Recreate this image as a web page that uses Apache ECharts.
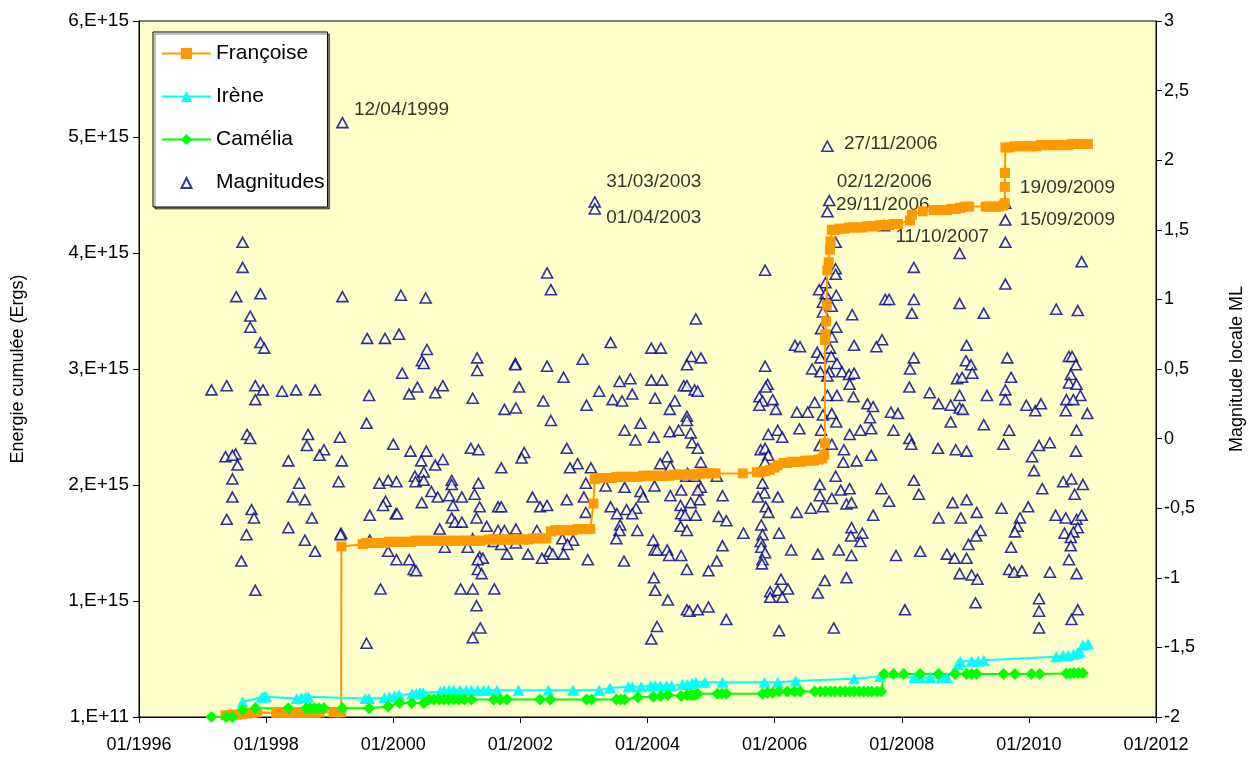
<!DOCTYPE html>
<html>
<head>
<meta charset="utf-8">
<script src="https://cdn.jsdelivr.net/npm/echarts@6/dist/echarts.min.js"></script>
<style>
  html, body { margin: 0; padding: 0; background: #fff; }
  #chart { width: 1254px; height: 763px; }
</style>
</head>
<body>
<div id="chart"></div>
<script>
// tick labels
const xTicks = [1996, 1998, 2000, 2002, 2004, 2006, 2008, 2010, 2012];

// energie cumulée (Ergs), [année décimale, énergie]
const francoise = [
  [1997.36, 0.015e15], [1997.42, 0.015e15], [1997.48, 0.02e15], [1997.55, 0.02e15], [1997.62, 0.025e15],
  [1997.70, 0.03e15], [1997.78, 0.035e15], [1997.86, 0.04e15], [1998.16, 0.035e15], [1998.22, 0.035e15],
  [1998.29, 0.035e15], [1998.36, 0.035e15], [1998.43, 0.035e15], [1998.50, 0.035e15], [1998.57, 0.035e15],
  [1998.64, 0.035e15], [1998.71, 0.035e15], [1998.78, 0.035e15], [1998.84, 0.04e15], [1999.06, 0.04e15],
  [1999.12, 0.04e15], [1999.18, 0.04e15], [1999.185, 1.47e15],
  [1999.52, 1.49e15], [1999.58, 1.50e15], [1999.65, 1.50e15], [1999.72, 1.50e15], [1999.79, 1.50e15],
  [1999.86, 1.50e15], [1999.93, 1.51e15], [2000.00, 1.51e15], [2000.07, 1.51e15], [2000.14, 1.51e15],
  [2000.21, 1.51e15], [2000.28, 1.51e15], [2000.35, 1.52e15], [2000.42, 1.52e15], [2000.49, 1.52e15],
  [2000.56, 1.52e15], [2000.63, 1.52e15], [2000.70, 1.52e15], [2000.77, 1.52e15], [2000.84, 1.52e15],
  [2000.91, 1.52e15], [2001.02, 1.52e15], [2001.09, 1.52e15], [2001.16, 1.52e15], [2001.23, 1.52e15],
  [2001.30, 1.52e15], [2001.37, 1.52e15], [2001.50, 1.53e15], [2001.57, 1.53e15], [2001.64, 1.53e15],
  [2001.71, 1.53e15], [2001.78, 1.53e15], [2001.85, 1.53e15], [2001.92, 1.53e15], [2001.99, 1.53e15],
  [2002.06, 1.53e15], [2002.13, 1.53e15], [2002.20, 1.54e15], [2002.27, 1.54e15], [2002.34, 1.54e15],
  [2002.41, 1.54e15], [2002.48, 1.60e15], [2002.55, 1.61e15], [2002.62, 1.61e15], [2002.69, 1.61e15],
  [2002.76, 1.61e15], [2002.83, 1.61e15], [2002.90, 1.62e15], [2002.97, 1.62e15], [2003.04, 1.62e15],
  [2003.10, 1.62e15], [2003.15, 1.84e15], [2003.17, 2.05e15], [2003.23, 2.06e15], [2003.30, 2.06e15],
  [2003.37, 2.06e15], [2003.44, 2.06e15], [2003.51, 2.07e15], [2003.58, 2.07e15], [2003.65, 2.07e15],
  [2003.72, 2.07e15], [2003.79, 2.07e15], [2003.86, 2.07e15], [2003.93, 2.08e15], [2004.00, 2.08e15],
  [2004.07, 2.08e15], [2004.14, 2.08e15], [2004.21, 2.08e15], [2004.28, 2.08e15], [2004.35, 2.08e15],
  [2004.42, 2.09e15], [2004.49, 2.09e15], [2004.56, 2.09e15], [2004.63, 2.09e15], [2004.70, 2.09e15],
  [2004.77, 2.09e15], [2004.84, 2.10e15], [2004.91, 2.10e15], [2005.00, 2.10e15], [2005.07, 2.10e15],
  [2005.50, 2.10e15], [2005.72, 2.11e15], [2005.78, 2.11e15], [2005.85, 2.12e15], [2005.92, 2.13e15],
  [2006.00, 2.15e15], [2006.05, 2.17e15], [2006.14, 2.19e15], [2006.20, 2.19e15], [2006.27, 2.20e15],
  [2006.34, 2.20e15], [2006.41, 2.20e15], [2006.48, 2.21e15], [2006.55, 2.21e15], [2006.62, 2.21e15],
  [2006.69, 2.22e15], [2006.75, 2.23e15], [2006.78, 2.26e15], [2006.79, 2.36e15], [2006.795, 3.25e15],
  [2006.80, 3.30e15], [2006.81, 3.41e15], [2006.82, 3.55e15], [2006.83, 3.85e15], [2006.85, 3.92e15],
  [2006.87, 4.03e15], [2006.88, 4.10e15], [2006.90, 4.20e15], [2006.96, 4.20e15], [2007.03, 4.21e15],
  [2007.10, 4.21e15], [2007.17, 4.22e15], [2007.24, 4.22e15], [2007.31, 4.22e15], [2007.38, 4.22e15],
  [2007.45, 4.23e15], [2007.52, 4.23e15], [2007.59, 4.23e15], [2007.66, 4.24e15], [2007.73, 4.24e15],
  [2007.80, 4.24e15], [2007.87, 4.25e15], [2007.94, 4.25e15], [2008.13, 4.28e15], [2008.16, 4.33e15],
  [2008.33, 4.36e15], [2008.50, 4.37e15], [2008.57, 4.37e15], [2008.64, 4.37e15], [2008.71, 4.37e15],
  [2008.78, 4.38e15], [2008.85, 4.38e15], [2008.92, 4.39e15], [2008.99, 4.40e15], [2009.06, 4.40e15],
  [2009.32, 4.40e15], [2009.39, 4.40e15], [2009.46, 4.40e15], [2009.53, 4.40e15], [2009.60, 4.41e15],
  [2009.62, 4.43e15], [2009.622, 4.57e15], [2009.625, 4.69e15], [2009.63, 4.91e15], [2009.70, 4.91e15],
  [2009.77, 4.92e15], [2009.84, 4.92e15], [2009.91, 4.92e15], [2009.98, 4.92e15], [2010.05, 4.92e15],
  [2010.12, 4.92e15], [2010.19, 4.93e15], [2010.26, 4.93e15], [2010.33, 4.93e15], [2010.40, 4.93e15],
  [2010.47, 4.93e15], [2010.54, 4.93e15], [2010.61, 4.93e15], [2010.68, 4.94e15], [2010.75, 4.94e15],
  [2010.82, 4.94e15], [2010.89, 4.94e15], [2010.93, 4.94e15]
];

const irene = [
  [1997.63, 0.13e15], [1997.93, 0.17e15], [1997.97, 0.175e15], [1998.00, 0.175e15], [1998.48, 0.16e15],
  [1998.55, 0.165e15], [1998.62, 0.17e15], [1998.66, 0.175e15], [1999.56, 0.16e15], [1999.62, 0.16e15],
  [1999.86, 0.165e15], [1999.94, 0.175e15], [2000.02, 0.18e15], [2000.09, 0.19e15], [2000.30, 0.20e15],
  [2000.36, 0.20e15], [2000.42, 0.21e15], [2000.47, 0.21e15], [2000.74, 0.22e15], [2000.80, 0.23e15],
  [2000.88, 0.23e15], [2000.95, 0.23e15], [2001.05, 0.23e15], [2001.15, 0.23e15], [2001.23, 0.23e15],
  [2001.33, 0.23e15], [2001.42, 0.23e15], [2001.50, 0.23e15], [2001.63, 0.23e15], [2001.97, 0.23e15],
  [2002.44, 0.23e15], [2002.83, 0.23e15], [2003.24, 0.23e15], [2003.41, 0.25e15], [2003.70, 0.26e15],
  [2003.76, 0.26e15], [2003.90, 0.26e15], [2004.05, 0.27e15], [2004.12, 0.27e15], [2004.20, 0.27e15],
  [2004.30, 0.27e15], [2004.38, 0.27e15], [2004.55, 0.28e15], [2004.63, 0.28e15], [2004.70, 0.29e15],
  [2004.76, 0.30e15], [2004.90, 0.30e15], [2005.18, 0.30e15], [2005.84, 0.30e15], [2006.05, 0.30e15],
  [2006.33, 0.31e15], [2007.25, 0.33e15], [2007.66, 0.35e15], [2008.20, 0.34e15], [2008.29, 0.34e15],
  [2008.45, 0.34e15], [2008.63, 0.34e15], [2008.71, 0.34e15], [2008.88, 0.45e15], [2008.92, 0.48e15],
  [2009.10, 0.48e15], [2009.20, 0.48e15], [2009.29, 0.49e15], [2010.43, 0.52e15], [2010.54, 0.53e15],
  [2010.62, 0.53e15], [2010.70, 0.54e15], [2010.76, 0.55e15], [2010.80, 0.56e15], [2010.85, 0.62e15],
  [2010.93, 0.63e15]
];

const camelia = [
  [1997.14, 0], [1997.37, 0], [1997.47, 0], [1997.63, 0.06e15], [1997.83, 0.075e15],
  [1998.35, 0.075e15], [1998.63, 0.075e15], [1998.69, 0.075e15], [1998.76, 0.075e15], [1998.83, 0.075e15],
  [1998.91, 0.075e15], [1999.20, 0.075e15], [1999.62, 0.075e15], [1999.92, 0.09e15], [2000.10, 0.12e15],
  [2000.29, 0.12e15], [2000.48, 0.12e15], [2000.56, 0.15e15], [2000.64, 0.15e15], [2000.72, 0.15e15],
  [2000.80, 0.15e15], [2000.87, 0.15e15], [2000.95, 0.15e15], [2001.03, 0.15e15], [2001.12, 0.15e15],
  [2001.23, 0.15e15], [2001.58, 0.15e15], [2001.68, 0.15e15], [2001.79, 0.15e15], [2002.31, 0.15e15],
  [2002.47, 0.15e15], [2003.04, 0.15e15], [2003.12, 0.15e15], [2003.51, 0.15e15], [2003.58, 0.15e15],
  [2003.64, 0.15e15], [2003.85, 0.17e15], [2004.09, 0.175e15], [2004.21, 0.18e15], [2004.32, 0.19e15],
  [2004.53, 0.18e15], [2004.62, 0.19e15], [2004.69, 0.19e15], [2004.74, 0.19e15], [2004.79, 0.20e15],
  [2005.10, 0.20e15], [2005.17, 0.20e15], [2005.24, 0.20e15], [2005.81, 0.20e15], [2005.89, 0.21e15],
  [2005.97, 0.21e15], [2006.07, 0.22e15], [2006.20, 0.22e15], [2006.31, 0.22e15], [2006.40, 0.22e15],
  [2006.63, 0.22e15], [2006.72, 0.22e15], [2006.80, 0.22e15], [2006.88, 0.22e15], [2006.95, 0.22e15],
  [2007.03, 0.22e15], [2007.11, 0.22e15], [2007.18, 0.22e15], [2007.25, 0.22e15], [2007.33, 0.22e15],
  [2007.40, 0.22e15], [2007.47, 0.22e15], [2007.53, 0.22e15], [2007.61, 0.22e15], [2007.68, 0.22e15],
  [2007.72, 0.37e15], [2007.87, 0.37e15], [2008.03, 0.37e15], [2008.29, 0.37e15], [2008.58, 0.37e15],
  [2008.84, 0.37e15], [2009.02, 0.37e15], [2009.10, 0.37e15], [2009.18, 0.37e15], [2009.60, 0.37e15],
  [2009.78, 0.37e15], [2010.04, 0.37e15], [2010.17, 0.37e15], [2010.59, 0.375e15], [2010.65, 0.375e15],
  [2010.71, 0.38e15], [2010.78, 0.38e15], [2010.85, 0.38e15]
];

// magnitude locale ML, [année décimale, magnitude]
const magnitudes = [
  [1999.20, 2.27], [1997.63, 1.41], [1997.63, 1.23], [1997.53, 1.02], [1997.91, 1.04], [1999.20, 1.02],
  [2000.12, 1.03], [2000.51, 1.01], [1997.75, 0.88], [1997.75, 0.80], [1997.91, 0.69], [1997.97, 0.65],
  [1999.59, 0.72], [1999.87, 0.72], [2000.09, 0.75], [2000.53, 0.64], [2000.45, 0.56], [2000.48, 0.54],
  [2000.14, 0.47], [2000.38, 0.37], [2000.25, 0.32], [1997.14, 0.35], [1997.38, 0.38], [1997.83, 0.38],
  [1997.95, 0.35], [1997.83, 0.28], [1998.25, 0.34], [1998.47, 0.35], [1998.77, 0.35], [1999.62, 0.31],
  [1999.58, 0.11], [1997.70, 0.03], [1997.75, 0.00], [1998.66, 0.03], [1998.64, -0.05], [1999.16, 0.01],
  [1998.91, -0.08], [1998.84, -0.12], [2000.00, -0.04], [2000.27, -0.09], [2000.52, -0.09], [1997.36, -0.13],
  [1997.52, -0.11], [1997.47, -0.12], [1997.55, -0.19], [1998.35, -0.16], [1999.19, -0.16], [2000.44, -0.16],
  [1997.47, -0.29], [1998.52, -0.32], [1999.14, -0.31], [1999.78, -0.32], [1999.92, -0.30], [2000.05, -0.31],
  [2000.34, -0.27], [2000.48, -0.24], [2000.35, -0.31], [2000.48, -0.30], [1997.47, -0.42], [1998.42, -0.42],
  [1998.61, -0.44], [1999.88, -0.45], [1999.84, -0.48], [2000.45, -0.46], [1997.77, -0.51], [1997.81, -0.57],
  [1997.38, -0.58], [1998.72, -0.57], [1999.63, -0.55], [2000.04, -0.54], [2000.06, -0.54], [1998.35, -0.64],
  [1999.18, -0.68], [1999.17, -0.69], [1997.69, -0.69], [1998.61, -0.73], [1999.63, -0.73], [1998.77, -0.81],
  [1999.92, -0.81], [2000.05, -0.87], [2000.25, -0.87], [2000.32, -0.94], [2000.36, -0.95], [1997.61, -0.88],
  [1997.83, -1.09], [1999.80, -1.08], [1999.58, -1.47],
  [2003.17, 1.70], [2003.17, 1.65], [2002.42, 1.19], [2002.48, 1.07], [2003.42, 0.69], [2004.06, 0.65],
  [2001.32, 0.58], [2001.32, 0.49], [2001.92, 0.54], [2001.92, 0.53], [2002.42, 0.52], [2002.98, 0.57],
  [2002.68, 0.44], [2004.06, 0.42], [2003.56, 0.41], [2003.73, 0.43], [2000.78, 0.38], [2000.66, 0.33],
  [2001.98, 0.37], [2003.24, 0.34], [2003.76, 0.32], [2004.12, 0.29], [2001.25, 0.29], [2002.36, 0.27],
  [2003.45, 0.28], [2003.60, 0.27], [2003.04, 0.24], [2001.75, 0.21], [2001.93, 0.22],
  [2002.48, 0.13], [2003.64, 0.06], [2003.89, 0.11], [2003.81, -0.01], [2004.10, 0.01], [2001.22, -0.07],
  [2001.34, -0.08], [2000.78, -0.15], [2000.66, -0.19], [2002.06, -0.10], [2002.02, -0.14], [2002.73, -0.07],
  [2002.90, -0.18], [2002.78, -0.21], [2003.11, -0.21], [2001.70, -0.21], [2000.92, -0.30], [2000.92, -0.33],
  [2001.34, -0.32], [2003.03, -0.32], [2003.34, -0.34], [2003.64, -0.35], [2003.89, -0.38], [2004.11, -0.34],
  [2000.60, -0.38], [2000.70, -0.42], [2000.88, -0.41], [2001.08, -0.42], [2001.28, -0.40], [2000.94, -0.48],
  [2001.36, -0.49], [2001.65, -0.49], [2001.70, -0.49], [2002.19, -0.42], [2002.31, -0.49], [2002.42, -0.48],
  [2002.73, -0.44], [2003.00, -0.42], [2003.03, -0.53], [2003.42, -0.49], [2003.52, -0.54], [2003.67, -0.51],
  [2003.82, -0.50], [2003.93, -0.42], [2003.76, -0.54], [2000.92, -0.57], [2000.97, -0.60], [2001.08, -0.60],
  [2001.31, -0.57], [2001.47, -0.63], [2000.73, -0.65], [2001.65, -0.66], [2001.75, -0.66], [2001.93, -0.65],
  [2002.26, -0.66], [2003.57, -0.62], [2003.56, -0.66], [2003.84, -0.66], [2003.51, -0.72], [2004.09, -0.73],
  [2000.81, -0.78], [2001.17, -0.78], [2001.25, -0.72], [2001.58, -0.74], [2001.70, -0.76], [2001.93, -0.75],
  [2002.66, -0.72], [2002.83, -0.73], [2002.74, -0.76], [2004.11, -0.80], [2001.36, -0.85], [2001.41, -0.86],
  [2001.33, -0.87], [2001.79, -0.83], [2002.12, -0.83], [2002.34, -0.86], [2002.46, -0.81], [2002.51, -0.83],
  [2002.68, -0.83], [2003.06, -0.87], [2003.63, -0.88], [2001.33, -0.94], [2001.39, -0.97], [2001.06, -1.08],
  [2001.25, -1.08], [2001.59, -1.08], [2004.10, -1.00], [2004.12, -1.09], [2001.31, -1.20], [2001.37, -1.36],
  [2001.25, -1.43], [2004.15, -1.35], [2004.06, -1.44],
  [2006.83, 2.10], [2006.86, 1.71], [2006.83, 1.63], [2005.85, 1.21], [2004.76, 0.86], [2006.96, 1.41],
  [2006.96, 1.22], [2006.96, 1.18], [2006.80, 1.12], [2006.70, 1.07], [2006.80, 1.04], [2006.97, 1.03],
  [2006.76, 0.98], [2006.90, 0.95], [2006.76, 0.91], [2007.22, 0.89], [2007.74, 1.00], [2006.97, 0.80],
  [2006.73, 0.79], [2006.90, 0.73], [2007.25, 0.67], [2007.69, 0.71], [2007.60, 0.66], [2006.32, 0.67],
  [2006.40, 0.66], [2004.21, 0.65], [2004.69, 0.59], [2004.84, 0.58], [2004.62, 0.53], [2005.85, 0.52],
  [2006.67, 0.62], [2006.72, 0.58], [2006.87, 0.65], [2006.89, 0.59], [2006.98, 0.54], [2006.59, 0.50],
  [2006.72, 0.48], [2006.86, 0.48], [2006.83, 0.45], [2007.06, 0.48], [2007.17, 0.46], [2007.25, 0.47],
  [2007.18, 0.39], [2004.23, 0.42], [2004.57, 0.38], [2004.62, 0.38], [2004.74, 0.35], [2004.79, 0.34],
  [2005.89, 0.39], [2005.86, 0.37], [2004.43, 0.27], [2004.35, 0.21], [2005.76, 0.30], [2005.81, 0.27],
  [2005.97, 0.28], [2006.02, 0.21], [2005.76, 0.24], [2006.35, 0.19], [2006.52, 0.19], [2006.63, 0.26],
  [2006.83, 0.31], [2006.98, 0.31], [2007.24, 0.30], [2007.46, 0.25], [2007.55, 0.23],
  [2004.62, 0.16], [2004.62, 0.13], [2006.76, 0.17], [2006.90, 0.18], [2006.97, 0.12], [2007.50, 0.15],
  [2007.35, 0.06], [2007.52, 0.07], [2007.18, 0.03], [2004.35, 0.05], [2004.49, 0.06], [2004.68, 0.04],
  [2004.70, -0.03], [2004.79, -0.07], [2005.90, 0.03], [2006.05, 0.06], [2006.12, 0.01], [2006.39, 0.07],
  [2006.73, 0.06], [2006.71, -0.05], [2006.90, -0.04], [2007.09, -0.08], [2005.78, -0.08], [2005.85, -0.07],
  [2005.90, -0.12], [2005.85, -0.17], [2007.08, -0.17], [2007.29, -0.16], [2007.52, -0.12], [2004.31, -0.13],
  [2004.36, -0.20], [2004.20, -0.18], [2004.84, -0.17], [2005.09, -0.27], [2004.61, -0.27], [2004.63, -0.25],
  [2004.74, -0.27], [2004.84, -0.35], [2004.79, -0.37], [2004.53, -0.37], [2004.36, -0.41], [2004.82, -0.44],
  [2005.18, -0.41], [2005.81, -0.32], [2005.84, -0.39], [2005.74, -0.42], [2006.05, -0.42], [2006.71, -0.33],
  [2006.71, -0.41], [2006.90, -0.43], [2006.96, -0.27], [2007.04, -0.37], [2007.18, -0.36], [2007.68, -0.36],
  [2006.57, -0.50], [2006.76, -0.49], [2006.35, -0.53], [2007.13, -0.47], [2007.21, -0.46], [2007.55, -0.55],
  [2004.52, -0.48], [2004.68, -0.46], [2004.53, -0.54], [2004.59, -0.55], [2004.76, -0.55], [2005.12, -0.56],
  [2005.24, -0.59], [2005.86, -0.49], [2005.90, -0.53], [2004.52, -0.63], [2004.62, -0.66], [2005.51, -0.68],
  [2005.79, -0.62], [2006.07, -0.68], [2007.21, -0.64], [2007.38, -0.68], [2007.20, -0.70], [2007.35, -0.74],
  [2004.15, -0.80], [2004.31, -0.80], [2004.34, -0.84], [2004.53, -0.84], [2005.18, -0.77], [2005.81, -0.69],
  [2005.78, -0.74], [2005.79, -0.78], [2005.85, -0.82], [2005.81, -0.87], [2005.80, -0.90], [2006.26, -0.80],
  [2006.68, -0.83], [2007.01, -0.80], [2007.21, -0.84], [2004.62, -0.94], [2005.09, -0.88], [2004.96, -0.95],
  [2004.32, -1.16], [2004.62, -1.23], [2004.66, -1.24], [2004.79, -1.23], [2004.96, -1.21], [2005.24, -1.30],
  [2006.10, -1.01], [2005.93, -1.10], [2005.93, -1.14], [2006.05, -1.09], [2006.21, -1.08], [2006.12, -1.14],
  [2006.79, -1.02], [2006.68, -1.11], [2007.13, -1.00], [2006.07, -1.38], [2006.93, -1.36],
  [2007.72, 1.53], [2009.63, 1.69], [2009.63, 1.57], [2009.63, 1.41], [2009.63, 1.11], [2008.91, 1.33],
  [2008.19, 1.23], [2010.83, 1.27], [2007.80, 1.00], [2008.19, 1.00], [2008.16, 0.90], [2008.91, 0.97],
  [2009.29, 0.90], [2010.43, 0.93], [2010.77, 0.92], [2009.02, 0.67], [2008.19, 0.58], [2009.01, 0.56],
  [2009.09, 0.53], [2008.13, 0.50], [2009.11, 0.47], [2008.87, 0.43], [2008.95, 0.44], [2009.66, 0.58],
  [2009.72, 0.44], [2010.63, 0.59], [2010.68, 0.59], [2010.74, 0.53], [2010.66, 0.46], [2010.63, 0.40],
  [2010.75, 0.39], [2010.81, 0.31], [2008.12, 0.37], [2008.44, 0.33], [2008.58, 0.25], [2008.77, 0.24],
  [2008.91, 0.31], [2008.91, 0.22], [2008.96, 0.21], [2009.34, 0.31], [2009.63, 0.35], [2009.63, 0.28],
  [2009.96, 0.24], [2010.10, 0.20], [2010.19, 0.25], [2010.59, 0.28], [2010.70, 0.28], [2010.58, 0.20],
  [2010.92, 0.18], [2007.83, 0.19], [2007.94, 0.18],
  [2008.77, 0.12], [2009.29, 0.10], [2009.69, 0.06], [2010.75, 0.06], [2007.87, 0.06], [2008.12, 0.00],
  [2008.15, -0.04], [2008.57, -0.07], [2008.85, -0.08], [2009.02, -0.09], [2009.60, -0.04], [2010.16, -0.05],
  [2010.33, -0.03], [2010.05, -0.13], [2010.74, -0.09], [2010.08, -0.23], [2007.80, -0.45], [2008.19, -0.30],
  [2008.27, -0.40], [2008.80, -0.46], [2009.02, -0.44], [2009.18, -0.53], [2008.58, -0.57], [2008.93, -0.57],
  [2009.57, -0.50], [2009.99, -0.49], [2010.21, -0.36], [2010.54, -0.31], [2010.67, -0.29], [2010.85, -0.33],
  [2010.72, -0.40], [2009.86, -0.57], [2009.82, -0.63], [2009.78, -0.67], [2010.42, -0.55], [2010.58, -0.57],
  [2010.75, -0.58], [2010.83, -0.55], [2010.77, -0.64], [2010.56, -0.68], [2010.70, -0.67], [2010.66, -0.71],
  [2009.24, -0.66], [2009.17, -0.70], [2009.05, -0.76], [2009.72, -0.78], [2010.66, -0.77], [2008.29, -0.81],
  [2007.91, -0.84], [2008.71, -0.83], [2008.83, -0.86], [2009.02, -0.86], [2010.63, -0.87], [2008.91, -0.97],
  [2009.10, -0.98], [2009.19, -1.01], [2009.69, -0.94], [2009.77, -0.96], [2009.89, -0.95], [2010.33, -0.96],
  [2010.75, -0.97], [2008.05, -1.23], [2009.16, -1.18], [2010.16, -1.15], [2010.16, -1.24], [2010.16, -1.36],
  [2010.77, -1.23], [2010.67, -1.30]
];

// dates des plus fortes magnitudes, [année décimale, magnitude, texte]
const annotations = [
  [1999.20, 2.27, '12/04/1999'],
  [2003.17, 1.70, '31/03/2003'],
  [2003.17, 1.65, '01/04/2003'],
  [2006.83, 2.10, '27/11/2006'],
  [2006.86, 1.71, '02/12/2006'],
  [2006.83, 1.63, '29/11/2006'],
  [2007.72, 1.53, '11/10/2007'],
  [2009.63, 1.69, '19/09/2009'],
  [2009.63, 1.57, '15/09/2009']
];
// décalage des étiquettes en pixels
const annotationOffsets = [[12, -12], [12, -20], [12, 9], [17, -2], [8, -18], [9, -6], [12, 12], [15, -15], [15, 0]];

const FONT = 'Liberation Sans, Arial, sans-serif';
// petit triangle pour la légende (les points M..L0 ne servent qu'à cadrer l'icône)
const LEGEND_TRIANGLE = 'path://M0,0L0,0M14,14L14,14M2,12.5L7,2.5L12,12.5Z';

let myChart = echarts.init(document.getElementById('chart'), null, { renderer: 'canvas' });

let option = {
  animation: false,
  backgroundColor: '#ffffff',
  grid: {
    left: 139,
    right: 94,
    top: 21,
    bottom: 46,
    show: true,
    backgroundColor: '#FFFFCC',
    borderColor: '#000',
    borderWidth: 1
  },
  legend: {
    orient: 'vertical',
    left: 153,
    top: 32,
    padding: [11, 3, 14, 8],
    itemWidth: 49,
    itemHeight: 14,
    itemGap: 22,
    backgroundColor: '#fff',
    borderColor: '#000',
    borderWidth: 1,
    shadowColor: 'rgba(0,0,0,0.5)',
    shadowOffsetX: 2,
    shadowOffsetY: 2,
    textStyle: { fontFamily: FONT, fontSize: 21, color: '#000', lineHeight: 21 },
    data: [
      { name: 'Françoise' },
      { name: 'Irène' },
      { name: 'Camélia' },
      { name: 'Magnitudes', icon: LEGEND_TRIANGLE }
    ]
  },
  xAxis: {
    type: 'value',
    min: xTicks[0],
    max: xTicks[xTicks.length - 1],
    interval: 2,
    axisLine: { lineStyle: { color: '#000', width: 1 } },
    axisTick: { length: 6, lineStyle: { color: '#000' } },
    axisLabel: {
      formatter: v => '01/' + v,
      color: '#000',
      fontFamily: FONT,
      fontSize: 18,
      margin: 19
    },
    splitLine: { show: false }
  },
  yAxis: [{
    type: 'value',
    min: 0,
    max: 6e15,
    interval: 1e15,
    name: 'Energie cumulée (Ergs)',
    nameLocation: 'middle',
    nameGap: 112,
    nameRotate: 90,
    nameTextStyle: { fontFamily: FONT, fontSize: 18, color: '#000' },
    axisLine: { show: true, lineStyle: { color: '#000' } },
    axisTick: { show: true, length: 6, lineStyle: { color: '#000' } },
    axisLabel: {
      formatter: v => v === 0 ? '1,E+11' : (v / 1e15) + ',E+15',
      color: '#000',
      fontFamily: FONT,
      fontSize: 19,
      margin: 10
    },
    splitLine: { show: false }
  }, {
    type: 'value',
    position: 'right',
    min: -2,
    max: 3,
    interval: 0.5,
    name: 'Magnitude locale ML',
    nameLocation: 'middle',
    nameGap: 72,
    nameRotate: 90,
    nameTextStyle: { fontFamily: FONT, fontSize: 18, color: '#000' },
    axisLine: { show: true, lineStyle: { color: '#000' } },
    axisTick: { show: true, length: 6, lineStyle: { color: '#000' } },
    axisLabel: {
      formatter: v => String(v).replace('.', ','),
      color: '#000',
      fontFamily: FONT,
      fontSize: 18,
      margin: 8
    },
    splitLine: { show: false }
  }],
  series: [{
    name: 'Françoise',
    type: 'line',
    yAxisIndex: 0,
    data: francoise,
    symbol: 'rect',
    symbolSize: 10,
    showAllSymbol: true,
    lineStyle: { color: '#FF9900', width: 2 },
    itemStyle: { color: '#FF9900' }
  }, {
    name: 'Irène',
    type: 'line',
    yAxisIndex: 0,
    data: irene,
    symbol: 'triangle',
    symbolSize: [12, 11],
    showAllSymbol: true,
    lineStyle: { color: '#00FFFF', width: 2 },
    itemStyle: { color: '#00FFFF' }
  }, {
    name: 'Camélia',
    type: 'line',
    yAxisIndex: 0,
    data: camelia,
    symbol: 'diamond',
    symbolSize: [12, 12],
    showAllSymbol: true,
    lineStyle: { color: '#00FF00', width: 2 },
    itemStyle: { color: '#00FF00' }
  }, {
    name: 'Magnitudes',
    type: 'scatter',
    yAxisIndex: 1,
    data: magnitudes,
    symbol: 'triangle',
    symbolSize: [11, 10],
    itemStyle: { color: '#ffffff', borderColor: '#000080', borderWidth: 1.6 }
  }, {
    name: 'dates',
    type: 'scatter',
    yAxisIndex: 1,
    silent: true,
    symbolSize: 1,
    itemStyle: { color: 'rgba(0,0,0,0)' },
    data: annotations.map((a, i) => ({
      value: [a[0], a[1]],
      name: a[2],
      label: { position: annotationOffsets[i] }
    })),
    label: {
      show: true,
      formatter: p => p.name,
      align: 'left',
      verticalAlign: 'middle',
      fontFamily: FONT,
      fontSize: 19,
      color: '#000'
    }
  }]
};

myChart.setOption(option, true);
window.addEventListener('resize', () => {
  myChart.resize();
});
</script>
</body>
</html>
